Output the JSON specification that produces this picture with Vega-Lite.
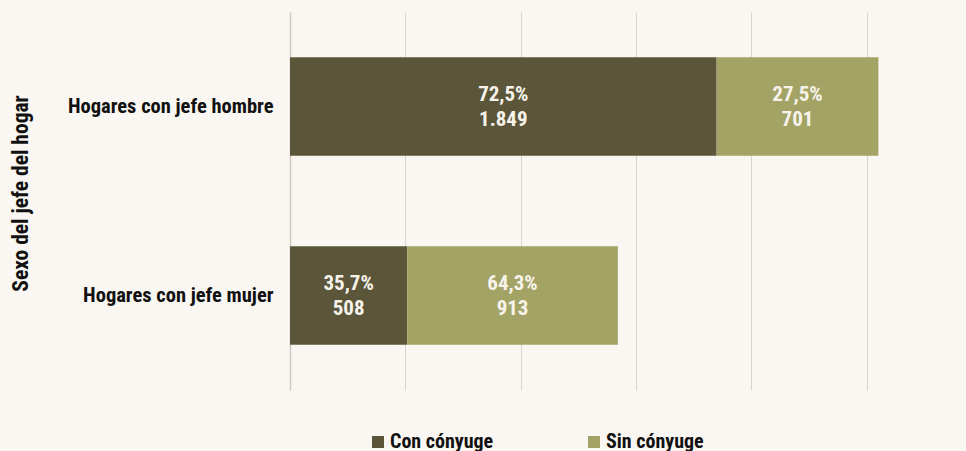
{
  "$schema": "https://vega.github.io/schema/vega-lite/v6.json",
  "width": 623,
  "height": 378,
  "autosize": {"type": "none"},
  "padding": {"left": 290, "top": 12, "right": 53, "bottom": 61},
  "background": "#faf7f2",
  "config": {
    "view": {"stroke": null},
    "font": "Liberation Sans Narrow, Roboto Condensed, DejaVu Sans Condensed, sans-serif"
  },
  "data": {
    "values": [
      {"sexo": "Hogares con jefe hombre", "tipo": "Con cónyuge", "n": 1849, "label": "72,5%\n1.849"},
      {"sexo": "Hogares con jefe hombre", "tipo": "Sin cónyuge", "n": 701, "label": "27,5%\n701"},
      {"sexo": "Hogares con jefe mujer", "tipo": "Con cónyuge", "n": 508, "label": "35,7%\n508"},
      {"sexo": "Hogares con jefe mujer", "tipo": "Sin cónyuge", "n": 913, "label": "64,3%\n913"}
    ]
  },
  "transform": [
    {"stack": "n", "groupby": ["sexo"], "sort": [{"field": "tipo", "order": "ascending"}], "as": ["n_start", "n_end"]},
    {"calculate": "(datum.n_start + datum.n_end) / 2", "as": "n_mid"}
  ],
  "encoding": {
    "y": {
      "field": "sexo",
      "type": "nominal",
      "scale": {"paddingInner": 0.48, "paddingOuter": 0.24},
      "axis": {
        "title": "Sexo del jefe del hogar",
        "titleFontSize": 21.5,
        "titleFontWeight": "bold",
        "titleColor": "#111111",
        "titleX": -269,
        "titleY": 181,
        "titleAngle": -90,
        "titleBaseline": "middle",
        "labelFontSize": 20.5,
        "labelFontWeight": "bold",
        "labelColor": "#111111",
        "labelPadding": 17,
        "labelLimit": 300,
        "ticks": false,
        "domain": true,
        "domainColor": "#cfcac4",
        "domainWidth": 1.5
      }
    }
  },
  "layer": [
    {
      "mark": {"type": "bar"},
      "encoding": {
        "x": {
          "field": "n_start",
          "type": "quantitative",
          "scale": {"domain": [0, 2700], "nice": false},
          "axis": {
            "title": null,
            "labels": false,
            "ticks": false,
            "domain": false,
            "grid": true,
            "gridColor": "#d9d5d0",
            "gridWidth": 1,
            "values": [0, 500, 1000, 1500, 2000, 2500]
          }
        },
        "x2": {"field": "n_end"},
        "color": {
          "field": "tipo",
          "type": "nominal",
          "scale": {"domain": ["Con cónyuge", "Sin cónyuge"], "range": ["#5b563a", "#a3a366"]},
          "legend": {
            "title": null,
            "orient": "none",
            "direction": "horizontal",
            "legendX": 78,
            "legendY": 420,
            "symbolType": "square",
            "symbolSize": 144,
            "symbolStrokeWidth": 0,
            "labelFontSize": 20,
            "labelFontWeight": "bold",
            "labelColor": "#111111",
            "labelOffset": 2,
            "columnPadding": 90,
            "labelLimit": 300
          }
        }
      }
    },
    {
      "mark": {"type": "text", "lineBreak": "\n", "fontSize": 21, "fontWeight": "bold", "color": "#f7f3ea", "lineHeight": 25, "baseline": "middle", "align": "center", "dy": -12},
      "encoding": {
        "x": {"field": "n_mid", "type": "quantitative"},
        "text": {"field": "label"}
      }
    }
  ]
}
